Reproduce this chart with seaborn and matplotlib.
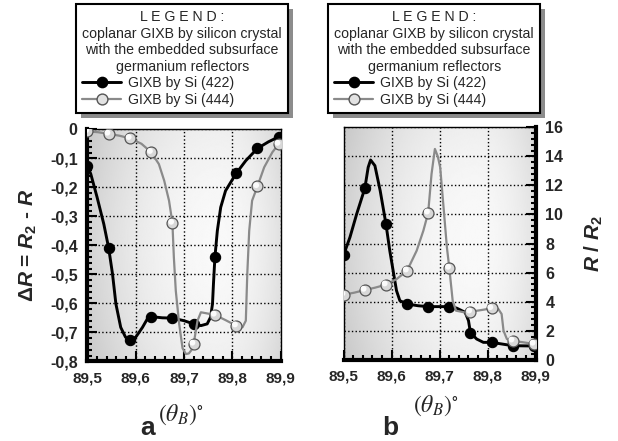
import numpy as np
import seaborn as sns
import matplotlib.pyplot as plt
import matplotlib.transforms as mtransforms
from matplotlib.lines import Line2D
from matplotlib.patches import Rectangle
from matplotlib.ticker import MultipleLocator

# measured points (markers)
theta_pts = [89.500, 89.544, 89.588, 89.632, 89.676, 89.720, 89.764, 89.808, 89.852, 89.896]
dR_422_pts = [-0.126, -0.409, -0.726, -0.646, -0.651, -0.671, -0.441, -0.152, -0.066, -0.026]
dR_444_pts = [-0.007, -0.016, -0.031, -0.079, -0.323, -0.740, -0.640, -0.677, -0.197, -0.051]
ratio_422_pts = [7.23, 11.80, 9.35, 3.84, 3.66, 3.66, 1.87, 1.20, 0.97, 0.95]
ratio_444_pts = [4.48, 4.80, 5.17, 6.13, 10.12, 6.32, 3.31, 3.54, 1.31, 1.09]

# smooth curves
dR_422_x = [89.500, 89.507, 89.520, 89.534, 89.544, 89.552, 89.559, 89.569, 89.579, 89.588,
            89.600, 89.614, 89.624, 89.632, 89.655, 89.676, 89.700, 89.720, 89.735, 89.748,
            89.755, 89.759, 89.761, 89.764, 89.769, 89.776, 89.786, 89.808, 89.828, 89.852,
            89.875, 89.896]
dR_422_y = [-0.126, -0.154, -0.234, -0.327, -0.409, -0.499, -0.602, -0.683, -0.717, -0.726,
            -0.717, -0.683, -0.654, -0.646, -0.650, -0.651, -0.660, -0.671, -0.677, -0.671,
            -0.648, -0.602, -0.533, -0.441, -0.350, -0.269, -0.212, -0.152, -0.108, -0.066,
            -0.043, -0.026]
dR_444_x = [89.500, 89.522, 89.544, 89.566, 89.588, 89.612, 89.632, 89.648, 89.659, 89.669,
            89.676, 89.679, 89.683, 89.690, 89.697, 89.704, 89.710, 89.716, 89.720, 89.724,
            89.728, 89.735, 89.745, 89.764, 89.786, 89.808, 89.821, 89.828, 89.831, 89.835,
            89.841, 89.852, 89.866, 89.883, 89.896]
dR_444_y = [-0.007, -0.010, -0.016, -0.022, -0.031, -0.050, -0.079, -0.120, -0.177, -0.246,
            -0.323, -0.441, -0.557, -0.671, -0.755, -0.775, -0.773, -0.760, -0.740, -0.700,
            -0.660, -0.631, -0.634, -0.640, -0.658, -0.677, -0.683, -0.660, -0.499, -0.350,
            -0.246, -0.197, -0.131, -0.079, -0.051]
ratio_422_x = [89.500, 89.513, 89.527, 89.544, 89.551, 89.556, 89.565, 89.576, 89.588, 89.596,
               89.603, 89.610, 89.617, 89.632, 89.655, 89.676, 89.700, 89.720, 89.735, 89.753,
               89.760, 89.764, 89.777, 89.791, 89.808, 89.829, 89.852, 89.896]
ratio_422_y = [7.23, 8.43, 10.03, 11.80, 13.25, 13.75, 13.36, 11.64, 9.35, 7.51,
               6.13, 4.76, 4.07, 3.84, 3.72, 3.66, 3.66, 3.66, 3.56, 3.27,
               2.69, 1.87, 1.43, 1.20, 1.20, 1.09, 0.97, 0.95]
ratio_444_x = [89.500, 89.522, 89.544, 89.566, 89.588, 89.610, 89.632, 89.652, 89.666, 89.676,
               89.683, 89.690, 89.696, 89.701, 89.708, 89.715, 89.720, 89.727, 89.734, 89.751,
               89.764, 89.786, 89.808, 89.822, 89.829, 89.833, 89.840, 89.852, 89.875, 89.896]
ratio_444_y = [4.48, 4.62, 4.80, 4.97, 5.17, 5.55, 6.13, 7.51, 8.89, 10.12,
               12.79, 14.51, 14.00, 13.25, 10.50, 7.74, 6.32, 4.07, 3.38, 3.27,
               3.31, 3.42, 3.54, 3.50, 3.15, 2.00, 1.43, 1.31, 1.20, 1.09]

series_names = ['GIXB by Si (422)', 'GIXB by Si (444)']
legend_title = ('L E G E N D :\ncoplanar GIXB by silicon crystal\n'
                'with the embedded subsurface\ngermanium reflectors')
x_ticks = [89.5, 89.6, 89.7, 89.8, 89.9]
x_ticklabels = ['89,5', '89,6', '89,7', '89,8', '89,9']
dR_ticks = [0, -0.1, -0.2, -0.3, -0.4, -0.5, -0.6, -0.7, -0.8]
dR_ticklabels = ['0', '-0,1', '-0,2', '-0,3', '-0,4', '-0,5', '-0,6', '-0,7', '-0,8']
ratio_ticks = [0, 2, 4, 6, 8, 10, 12, 14, 16]
ratio_ticklabels = ['0', '2', '4', '6', '8', '10', '12', '14', '16']

sns.set_style('white')
plt.rcParams['font.family'] = ['Liberation Sans', 'DejaVu Sans']
plt.rcParams['mathtext.fontset'] = 'custom'
plt.rcParams['mathtext.rm'] = 'Liberation Sans:bold'
plt.rcParams['mathtext.it'] = 'Liberation Sans:italic:bold'
plt.rcParams['mathtext.bf'] = 'Liberation Sans:bold'

BLACK = 'black'
GREY = '#8a8a8a'

fig = plt.figure(figsize=(6.18, 4.41), dpi=100)
ax1 = fig.add_axes([87.4 / 618, 1 - 361.3 / 441, 193.2 / 618, 232 / 441])
ax2 = fig.add_axes([343.7 / 618, 1 - 359.8 / 441, 192 / 618, 232.5 / 441])

# shaded panel background
gx, gy = np.meshgrid(np.linspace(0, 1, 300), np.linspace(0, 1, 200))
shade = np.where(gx < 0.68, 0.975 - 0.33 * (gx - 0.68) ** 2, 0.975 - 0.9 * (gx - 0.68) ** 2)
shade = shade - 0.04 * ((gy - 0.5) / 0.5) ** 2


def draw_panel(ax, cx422, cy422, cx444, cy444, py422, py444):
    ax.imshow(shade, cmap='gray', vmin=0, vmax=1, extent=(0, 1, 0, 1),
              transform=ax.transAxes, aspect='auto', zorder=0, interpolation='bilinear')
    sns.lineplot(x=cx422, y=cy422, ax=ax, sort=False, estimator=None,
                 color=BLACK, lw=2.1, zorder=3)
    sns.scatterplot(x=theta_pts, y=py422, ax=ax, color=BLACK, edgecolor=BLACK,
                    s=55, linewidth=0.8, zorder=4)
    sns.lineplot(x=cx444, y=cy444, ax=ax, sort=False, estimator=None,
                 color=GREY, lw=1.6, zorder=5)
    sns.scatterplot(x=theta_pts, y=py444, ax=ax, color='#d8d8d8', edgecolor='#555555',
                    s=62, linewidth=0.9, zorder=6)
    hl = mtransforms.offset_copy(ax.transData, fig=fig, x=-0.9, y=0.9, units='points')
    sns.scatterplot(x=theta_pts, y=py444, ax=ax, color='#fbfbfb', edgecolor='none',
                    s=18, linewidth=0, zorder=7, transform=hl)
    ax.set_xlim(89.5, 89.9)
    ax.set_xticks(x_ticks)
    ax.set_xticklabels(x_ticklabels, fontweight='bold', fontsize=11)
    ax.xaxis.set_minor_locator(MultipleLocator(0.02))
    ax.grid(True, which='major', color='black', linestyle=':', linewidth=1)
    ax.set_axisbelow(True)
    ax.tick_params(which='major', direction='in', length=7, width=1.5, pad=7, color='black')
    ax.tick_params(which='minor', direction='in', length=3.5, width=1.5, color='black')
    for s in ax.spines.values():
        s.set_color('black')
        s.set_linewidth(1)
    ax.spines['bottom'].set_linewidth(3)
    ax.set_xlabel('')
    ax.set_ylabel('')

    handles = [Line2D([], [], color=BLACK, lw=2.1, marker='o', ms=7.4, mfc=BLACK, mec=BLACK),
               Line2D([], [], color=GREY, lw=1.6, marker='o', ms=7.8, mfc='#e2e2e2', mec='#555555')]
    return handles


h = draw_panel(ax1, dR_422_x, dR_422_y, dR_444_x, dR_444_y, dR_422_pts, dR_444_pts)
draw_panel(ax2, ratio_422_x, ratio_422_y, ratio_444_x, ratio_444_y, ratio_422_pts, ratio_444_pts)

# panel a
ax1.set_ylim(-0.8, 0)
ax1.set_yticks(dR_ticks)
ax1.set_yticklabels(dR_ticklabels, fontweight='bold', fontsize=11.5)
ax1.yaxis.set_minor_locator(MultipleLocator(0.02))
ax1.spines['left'].set_linewidth(3)
ax1.tick_params(which='both', left=True, bottom=True, right=False, top=False)
ax1.set_ylabel(r'$\Delta\mathit{R}$ = $\mathit{R}_2$ - $\mathit{R}$', fontsize=15, fontweight='bold')
ax1.yaxis.set_label_coords(-0.25, 0.5)

# panel b
ax2.set_ylim(0, 16)
ax2.yaxis.tick_right()
ax2.yaxis.set_label_position('right')
ax2.set_yticks(ratio_ticks)
ax2.set_yticklabels(ratio_ticklabels, fontweight='bold', fontsize=11.5)
ax2.yaxis.set_minor_locator(MultipleLocator(0.4))
ax2.spines['right'].set_linewidth(3)
ax2.tick_params(which='both', left=False, bottom=True, right=True, top=False)
ax2.set_ylabel(r'$\mathit{R}$ / $\mathit{R}_2$', fontsize=15, fontweight='bold', rotation=90)
ax2.yaxis.set_label_coords(1.246, 0.5)

# angle labels and panel letters
ax1.text(0.365, -0.257, r'$(\theta_B)^{\circ}$', transform=ax1.transAxes, fontsize=17,
         math_fontfamily='stix', ha='left', va='baseline')
ax1.text(0.311, -0.318, 'a', transform=ax1.transAxes, fontsize=19, fontweight='bold',
         ha='center', va='baseline')
ax2.text(0.361, -0.225, r'$(\theta_B)^{\circ}$', transform=ax2.transAxes, fontsize=17,
         math_fontfamily='stix', ha='left', va='baseline')
ax2.text(0.244, -0.323, 'b', transform=ax2.transAxes, fontsize=19, fontweight='bold',
         ha='center', va='baseline')

legends = []
for ax, x0 in [(ax1, 76), (ax2, 328)]:
    leg = ax.legend(h, series_names, title=legend_title, loc='upper left',
                    bbox_to_anchor=(x0 / 618, 1 - 4 / 441), bbox_transform=fig.transFigure,
                    borderaxespad=0, frameon=True, fancybox=False, edgecolor='black',
                    framealpha=1, fontsize=10.2, title_fontsize=10.2, alignment='left',
                    handlelength=2.7, handletextpad=0.5, labelspacing=0.18, borderpad=0.45)
    leg.get_frame().set_linewidth(1.5)
    leg.get_title().set_multialignment('center')
    leg.get_title().set_linespacing(1.22)
    leg.set_zorder(10)
    legends.append((ax, leg))

fig.canvas.draw()
for ax, leg in legends:
    bb = leg.get_window_extent()
    shadow = Rectangle((bb.x0 + 5, bb.y0 - 5), bb.width, bb.height, facecolor='#8c8c8c',
                       edgecolor='none', transform=mtransforms.IdentityTransform(),
                       clip_on=False, zorder=9)
    ax.add_artist(shadow)

fig.savefig('out.png', dpi=100)
